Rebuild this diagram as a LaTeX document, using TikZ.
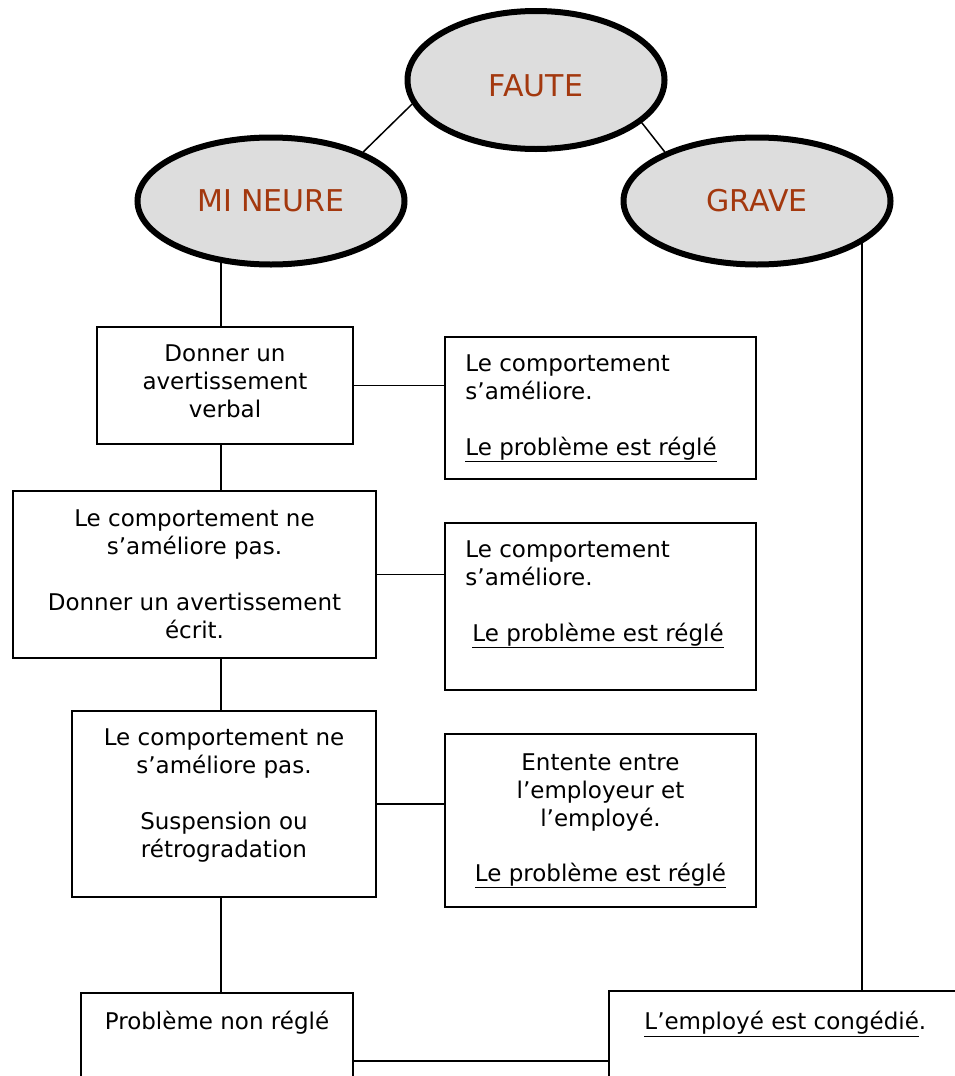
\documentclass[tikz,border=0pt]{standalone}
\usepackage{fontspec}
\setmainfont{DejaVu Sans}
\usetikzlibrary{positioning,backgrounds,shapes.geometric}
\definecolor{brique}{RGB}{163,56,14}
\definecolor{grisclair}{RGB}{221,221,221}
\begin{document}
\begin{tikzpicture}[x=1pt,y=-1pt,
  bulle/.style={ellipse, draw=black, line width=6pt, fill=grisclair, text=brique, inner sep=0pt, font=\fontsize{30}{36}\selectfont},
  boite/.style={rectangle, draw=black, line width=1.5pt, fill=white, inner sep=0pt},
  texte/.style={inner sep=0pt, font=\fontsize{23}{28}\selectfont},
  lien/.style={draw=black, line width=1.5pt}]
\useasboundingbox (0,0) rectangle (955,1076);
\clip (0,0) rectangle (955,1076);
% les trois bulles
\node [bulle, minimum width=257, minimum height=138, text height=32pt, text depth=0pt] (faute) at (536,80) {FAUTE};
\node [bulle, minimum width=267, minimum height=127] (mineure) at (271,201) {MI\kern9pt NEURE};
\node [bulle, minimum width=267, minimum height=127] (grave) at (757,201) {GRAVE};
% colonne de gauche
\node [boite, minimum width=256, minimum height=117] (verbal) at (225,385.5) {};
\node [boite, minimum width=363, minimum height=167] (ecrit) at (194.5,574.5) {};
\node [boite, minimum width=304, minimum height=186] (suspension) at (224,804) {};
\node [boite, minimum width=272, minimum height=136] (nonregle) at (217,1061) {};
% colonne de droite
\node [boite, minimum width=311, minimum height=142] (regle1) at (600.5,408) {};
\node [boite, minimum width=311, minimum height=167] (regle2) at (600.5,606.5) {};
\node [boite, minimum width=311, minimum height=173] (entente) at (600.5,820.5) {};
\node [boite, minimum width=391, minimum height=140] (conge) at (804.5,1061) {};
% textes
\node [texte, align=center, below=18pt of verbal.north] (verbal-t) {Donner un\\avertissement\\verbal};
\node [texte, align=center, below=19pt of ecrit.north] (ecrit-t) {Le comportement ne\\s’améliore pas.\\[28pt]Donner un avertissement\\écrit.};
\node [texte, align=center, below=18pt of suspension.north] (suspension-t) {Le comportement ne\\s’améliore pas.\\[28pt]Suspension ou\\rétrogradation};
\node [texte, align=center, below=19pt of nonregle.north] (nonregle-t) {Problème non réglé};
\node [texte, align=left, below right=18pt and 21pt of regle1.north west] (regle1-t) {Le comportement\\s’améliore.\\[28pt]\underline{Le problème est réglé}};
\node [texte, align=left, below right=18pt and 21pt of regle2.north west] (regle2-t) {Le comportement\\s’améliore.\\[28pt]\hspace*{7pt}\underline{Le problème est réglé}};
\node [texte, align=center, below=20pt of entente.north] (entente-t) {Entente entre\\l’employeur et\\l’employé.\\[27pt]\underline{Le problème est réglé}};
\node [texte, align=left, below right=21pt and 36pt of conge.north west] (conge-t) {\underline{L’employé est congédié}.};
% liens
\coordinate (tronc) at (221,0);
\coordinate (droite) at (862,0);
\begin{scope}[on background layer]
\draw [lien] (faute.191) -- (mineure.28);
\draw [lien] (faute.338) -- (grave.152);
\draw [lien] (tronc |- mineure.center) -- (tronc |- verbal.north);
\draw [lien] (tronc |- verbal.south) -- (tronc |- ecrit.north);
\draw [lien] (tronc |- ecrit.south) -- (tronc |- suspension.north);
\draw [lien] (tronc |- suspension.south) -- (tronc |- nonregle.north);
\draw [lien] (verbal.east) -- (verbal.east -| regle1.west);
\draw [lien] (ecrit.east) -- (ecrit.east -| regle2.west);
\draw [lien] (suspension.east) -- (suspension.east -| entente.west);
\draw [lien] (nonregle.east) -- (conge.west);
\draw [lien] (droite |- grave.center) -- (droite |- conge.north);
\end{scope}
\end{tikzpicture}
\end{document}
